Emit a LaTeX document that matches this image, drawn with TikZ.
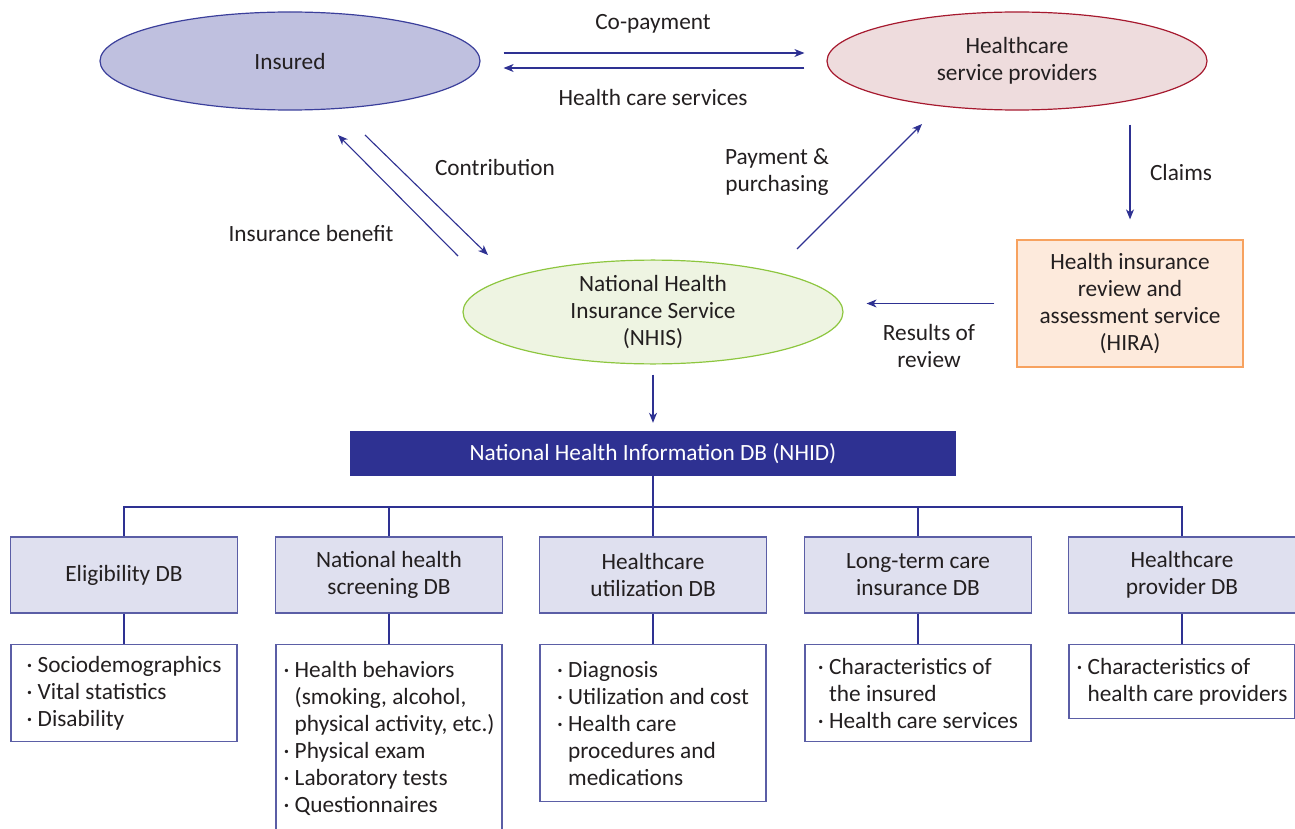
\documentclass[tikz,border=0pt]{standalone}
\usepackage{fontspec}
\setmainfont{Carlito}
\usetikzlibrary{shapes.geometric,arrows.meta}
\definecolor{navy}{HTML}{2E3192}
\definecolor{ink}{HTML}{231F20}
\definecolor{insuredfill}{HTML}{BFC0DF}
\definecolor{insuredline}{HTML}{3B3F9B}
\definecolor{providerfill}{HTML}{EEDCDD}
\definecolor{providerline}{HTML}{A6192E}
\definecolor{nhisfill}{HTML}{EEF4E2}
\definecolor{nhisline}{HTML}{8DC63F}
\definecolor{hirafill}{HTML}{FDEADC}
\definecolor{hiraline}{HTML}{F7A25F}
\definecolor{dbfill}{HTML}{DFE0EF}
\definecolor{dbline}{HTML}{5B5EA6}
\begin{document}
\begin{tikzpicture}[x=1pt, y=-1pt, >={Stealth[length=10pt,width=8pt,inset=3pt]},
  font=\fontsize{23.3}{27}\selectfont, text=ink,
  oval/.style={ellipse, line width=1.2pt, minimum width=380, minimum height=98, inner sep=0pt, align=center},
  flow/.style={->, draw=navy, line width=1.1pt},
  tree/.style={draw=navy, line width=1.1pt},
  dbbox/.style={draw=dbline, fill=dbfill, line width=1.2pt, minimum width=227, minimum height=76, align=center},
  infobox/.style={draw=dbline, fill=white, line width=1.2pt, minimum width=226, inner xsep=1pt, anchor=north, align=left}]
\useasboundingbox (0,0) rectangle (1295,829);
% top row
\node[oval, fill=insuredfill, draw=insuredline] (insured) at (290,61) {Insured};
\node[oval, fill=providerfill, draw=providerline] (provider) at (1017,61) {Healthcare\\service providers};
\node[oval, fill=nhisfill, draw=nhisline, minimum height=99] (nhis) at (653,312) {National Health\\Insurance Service\\(NHIS)};
\node[draw=hiraline, fill=hirafill, line width=1.2pt, minimum width=226, minimum height=127, align=center] (hira) at (1130,303.5) {Health insurance\\review and\\assessment service\\(HIRA)};
\node[fill=navy, text=white, minimum width=606, minimum height=45] (nhid) at (653,453.5) {National Health Information DB (NHID)};
% flows
\draw[flow, shorten <=23pt, shorten >=22pt] ([yshift=8pt]insured.east) -- ([yshift=8pt]provider.west);
\draw[flow, shorten <=22pt, shorten >=23pt] ([yshift=-7pt]provider.west) -- ([yshift=-7pt]insured.east);
\node (copay) at (653,24) {Co-payment};
\node (services) at (653,97) {Health care services};
\coordinate (contribtop) at (365,135);
\coordinate (contribend) at (488,255);
\coordinate (benefitstart) at (458,256);
\coordinate (benefittop) at (338,135);
\coordinate (paystart) at (797,249);
\coordinate (payend) at (922,124);
\draw[flow] (contribtop) -- (contribend);
\draw[flow] (benefitstart) -- (benefittop);
\draw[flow] (paystart) -- (payend);
\node (contrib) at (495,167) {Contribution};
\node (benefit) at (311,233) {Insurance benefit};
\node[align=center] (pay) at (777,172) {Payment \&\\purchasing};
\draw[flow, shorten <=14pt, shorten >=20pt] (hira.north |- provider.south) -- (hira.north);
\node (claims) at (1181,172) {Claims};
\draw[flow, shorten <=22pt, shorten >=23pt] (hira.west) -- (hira.west -| nhis.east);
\node[align=center] (results) at (929,346) {Results of\\review};
\draw[flow, shorten <=10pt, shorten >=8pt] (nhis.south) -- (nhid.north);
% databases
\node[dbbox] (eligdb) at (124,575) {Eligibility DB};
\node[dbbox] (screendb) at (389,575) {National health\\screening DB};
\node[dbbox] (utildb) at (653,575) {Healthcare\\utilization DB};
\node[dbbox] (ltcdb) at (918,575) {Long-term care\\insurance DB};
\node[dbbox] (provdb) at (1182,575) {Healthcare\\provider DB};
\node[infobox, minimum height=97] (eliginfo) at (124,644) {· Sociodemographics\\· Vital statistics\\· Disability};
\node[infobox, minimum height=187] (screeninfo) at (389,644) {· Health behaviors\\\phantom{· }(smoking, alcohol,\\\phantom{· }physical activity, etc.)\\· Physical exam\\· Laboratory tests\\· Questionnaires};
\node[infobox, minimum height=157] (utilinfo) at (653,644) {· Diagnosis\\· Utilization and cost\\· Health care\\\phantom{· }procedures and\\\phantom{· }medications};
\node[infobox, minimum height=97] (ltcinfo) at (918,644) {· Characteristics of\\\phantom{· }the insured\\· Health care services};
\node[infobox, minimum height=74] (provinfo) at (1182,644) {· Characteristics of\\\phantom{· }health care providers};
\coordinate (bus) at (653,507);
\draw[tree] (nhid.south) -- (bus);
\foreach \n in {elig,screen,util,ltc,prov} {
  \draw[tree] (bus) -| (\n db.north);
  \draw[tree] (\n db.south) -- (\n info.north);
}
\end{tikzpicture}
\end{document}
